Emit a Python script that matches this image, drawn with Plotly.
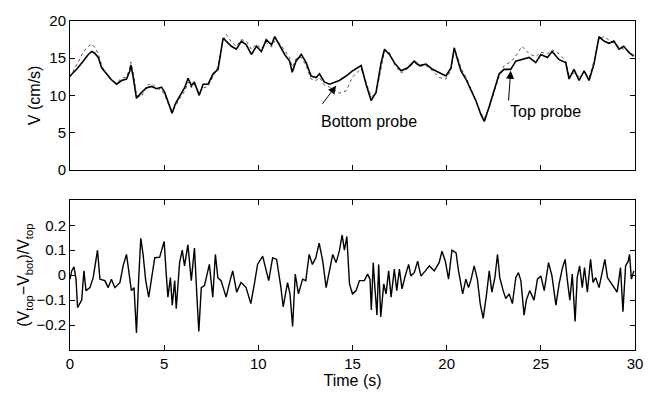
import plotly.graph_objects as go
from plotly.subplots import make_subplots

# Top panel: time (s) and velocities (cm/s)
t_v = [0, 0.35, 0.7, 0.97, 1.15, 1.3, 1.5, 1.68, 1.94, 2.2, 2.47, 2.74, 3.0, 3.18, 3.23, 3.36,
       3.53, 3.8, 4.06, 4.33, 4.6, 4.86, 5.03, 5.2, 5.42, 5.6, 5.83, 6.1, 6.27, 6.45, 6.6, 6.86,
       7.07, 7.33, 7.6, 7.86, 8.13, 8.3, 8.57, 8.83, 9.1, 9.36, 9.63, 9.9, 10.16, 10.42, 10.7,
       10.87, 11.13, 11.4, 11.66, 11.8, 12.0, 12.28, 12.54, 12.8, 13.07, 13.25, 13.5, 13.78,
       14.3, 14.66, 15.0, 15.46, 15.72, 15.99, 16.25, 16.52, 16.7, 16.96, 17.22, 17.58, 17.93,
       18.28, 18.55, 18.9, 19.25, 19.6, 19.96, 20.23, 20.4, 20.58, 20.76, 21.02, 21.29, 21.55,
       21.82, 22.0, 22.26, 22.52, 22.79, 23.05, 23.4, 23.67, 24.0, 24.38, 24.73, 25.0, 25.35,
       25.6, 25.97, 26.32, 26.5, 26.76, 27.03, 27.3, 27.56, 27.82, 28.09, 28.35, 28.62, 28.88,
       29.15, 29.4, 29.7, 29.94]
v_top = [12.6, 13.5, 14.6, 15.5, 15.9, 15.7, 15.1, 13.7, 12.9, 12.1, 11.5, 12.0, 12.2, 13.3, 14.1, 12.4,
         9.6, 10.4, 11.0, 11.2, 10.9, 11.1, 10.4, 9.3, 7.6, 8.9, 10.0, 11.1, 12.3, 11.3, 11.8, 10.0,
         11.5, 11.5, 12.9, 13.5, 17.7, 17.3, 16.6, 16.2, 17.3, 16.8, 15.5, 16.6, 15.9, 17.5, 16.8,
         17.9, 16.8, 15.5, 14.6, 13.1, 14.6, 15.5, 14.4, 12.6, 12.4, 12.9, 11.8, 11.5,
         12.0, 12.6, 13.3, 14.0, 11.5, 9.3, 10.4, 14.4, 16.2, 15.5, 14.4, 13.3, 13.7,
         14.6, 14.0, 14.2, 13.5, 13.1, 12.6, 13.7, 16.4, 14.8, 13.3, 12.2, 10.7, 9.3,
         7.4, 6.5, 8.5, 10.7, 12.9, 13.5, 13.5, 14.6, 14.8, 15.1, 14.4, 15.5, 15.1,
         15.9, 14.8, 14.4, 12.2, 13.5, 12.0, 13.3, 12.0, 14.2, 17.9, 17.3, 17.0, 17.3,
         16.2, 16.6, 15.7, 15.3]
v_bot = [12.4, 14.2, 15.8, 16.6, 16.9, 16.5, 15.6, 14.0, 12.8, 12.0, 11.7, 12.3, 12.5, 13.6, 14.5, 13.0,
         10.0, 9.8, 11.3, 11.6, 11.0, 10.7, 10.0, 9.0, 7.9, 8.5, 9.6, 10.6, 11.8, 11.0, 11.5, 10.3,
         11.0, 11.2, 12.6, 13.9, 17.4, 18.2, 17.2, 16.6, 17.5, 17.3, 16.2, 16.9, 16.3, 17.1, 16.5,
         17.3, 17.0, 16.0, 15.1, 13.8, 14.9, 15.1, 14.0, 12.2, 12.0, 12.4, 11.4, 11.1,
         10.3, 10.6, 12.5, 13.6, 11.8, 9.8, 10.2, 14.0, 16.0, 15.8, 14.2, 13.0, 13.6,
         14.4, 13.9, 14.0, 13.3, 12.4, 12.2, 13.4, 16.2, 15.2, 13.6, 12.5, 10.9, 9.4,
         7.6, 6.9, 8.3, 10.5, 12.6, 14.0, 14.5, 15.3, 16.6, 15.6, 15.2, 15.8, 15.6,
         16.1, 15.6, 14.6, 12.7, 13.0, 12.5, 13.1, 12.3, 14.6, 17.6, 17.9, 17.4, 16.9,
         16.5, 16.2, 15.9, 15.0]

# Bottom panel: relative difference (Vtop - Vbot)/Vtop
t_r = [0, 0.09, 0.21, 0.32, 0.4, 0.62, 0.74, 0.85, 1.06, 1.23, 1.46, 1.59, 1.85, 2.03, 2.2, 2.38,
       2.65, 2.82, 3.0, 3.12, 3.26, 3.4, 3.53, 3.65, 3.76, 3.88, 4.02, 4.18, 4.32, 4.5, 4.76,
       5.0, 5.11, 5.2, 5.33, 5.43, 5.56, 5.64, 5.82, 5.96, 6.08, 6.26, 6.44, 6.61, 6.74, 6.84,
       6.97, 7.14, 7.4, 7.58, 7.72, 7.85, 8.02, 8.29, 8.5, 8.64, 8.85, 9.08, 9.35, 9.6, 9.79,
       9.96, 10.23, 10.4, 10.55, 10.76, 10.97, 11.2, 11.32, 11.55, 11.68, 11.82, 11.96, 12.13,
       12.35, 12.52, 12.7, 12.87, 13.05, 13.23, 13.42, 13.6, 13.78, 13.95, 14.13, 14.31, 14.45,
       14.57, 14.7, 14.84, 15.0, 15.19, 15.37, 15.63, 15.8, 15.93, 16.0, 16.1, 16.2, 16.3,
       16.39, 16.5, 16.66, 16.78, 16.92, 17.05, 17.22, 17.35, 17.49, 17.63, 17.8, 17.98, 18.1,
       18.28, 18.46, 18.63, 18.87, 19.08, 19.34, 19.6, 19.75, 19.93, 20.1, 20.28, 20.5, 20.63,
       20.85, 21.02, 21.16, 21.28, 21.46, 21.63, 21.78, 21.94, 22.12, 22.26, 22.4, 22.56, 22.7,
       22.82, 23.0, 23.14, 23.32, 23.49, 23.67, 23.81, 23.94, 24.11, 24.23, 24.41, 24.64, 24.82,
       25.0, 25.18, 25.41, 25.59, 25.8, 25.97, 26.15, 26.29, 26.41, 26.54, 26.67, 26.82, 26.93,
       27.06, 27.2, 27.32, 27.47, 27.64, 27.77, 27.91, 28.09, 28.22, 28.4, 28.54, 28.7, 28.88,
       29.05, 29.23, 29.36, 29.5, 29.64, 29.71, 29.81, 29.94]
ratio = [-0.016, 0.017, 0.033, -0.016, -0.13, -0.10, 0.017, -0.062, -0.05, -0.01, 0.10, -0.016,
         -0.022, -0.05, -0.016, -0.05, -0.03, 0.037, 0.083, 0.004, -0.062, -0.05, -0.232, -0.01,
         0.148, 0.083, -0.022, -0.088, -0.016, 0.07, 0.072, 0.135, 0.004, -0.088, -0.01, -0.12,
         -0.022, -0.134, 0.05, 0.10, 0.037, 0.122, -0.022, 0.109, -0.088, -0.226, -0.05, -0.042,
         0.043, -0.088, 0.083, -0.01, -0.022, -0.088, -0.022, 0.017, -0.068, -0.029, -0.05,
         -0.114, -0.035, 0.043, 0.076, 0.017, -0.022, 0.07, 0.063, -0.05, -0.127, -0.03, -0.075,
         -0.206, 0.004, -0.075, -0.016, -0.022, 0.083, 0.043, 0.069, 0.128, 0.056, -0.05, 0.024,
         0.083, 0.05, 0.10, 0.161, 0.10, 0.155, -0.035, -0.075, -0.062, -0.022, -0.022, 0.004,
         -0.016, -0.14, 0.05, -0.062, -0.16, 0.043, -0.167, -0.035, -0.075, 0.017, -0.088, 0.024,
         -0.062, 0.024, -0.055, -0.003, 0.043, -0.003, 0.01, 0.056, -0.003, 0.017, 0.037, 0.017,
         0.05, 0.096, 0.056, -0.016, 0.10, 0.089, 0.017, -0.075, -0.016, -0.05, -0.022, 0.037,
         -0.016, -0.114, -0.173, -0.075, 0.017, -0.068, -0.01, 0.083, -0.01, -0.062, -0.094,
         -0.075, -0.114, -0.01, 0.01, -0.022, -0.16, -0.10, -0.062, -0.10, -0.016, -0.003, -0.062,
         0.05, -0.003, -0.12, -0.035, 0.03, 0.063, -0.022, -0.10, 0.004, -0.186, -0.01, 0.037,
         -0.05, 0.03, -0.068, 0.063, -0.029, -0.01, -0.05, 0.004, 0.063, -0.01, -0.029, -0.05,
         -0.068, 0.03, -0.147, 0.037, 0.056, 0.083, -0.016, 0.017]

x_ticks = [0, 5, 10, 15, 20, 25, 30]
v_ticks = [0, 5, 10, 15, 20]
r_ticks = [-0.2, -0.1, 0, 0.1, 0.2]
r_ticktext = ["\u22120.2", "\u22120.1", "0", "0.1", "0.2"]

FONT = "Liberation Sans, Arial, Helvetica, sans-serif"
TICK_SIZE = 15
LABEL_SIZE = 16

fig = make_subplots(rows=2, cols=1, vertical_spacing=0.0)

fig.add_trace(go.Scatter(x=t_v, y=v_bot, mode="lines", name="Bottom probe",
                         line=dict(color="#555555", width=1, dash="dot")), row=1, col=1)
fig.add_trace(go.Scatter(x=t_v, y=v_top, mode="lines", name="Top probe",
                         line=dict(color="black", width=1.6)), row=1, col=1)
fig.add_trace(go.Scatter(x=t_r, y=ratio, mode="lines",
                         line=dict(color="black", width=1.4)), row=2, col=1)

axis_common = dict(showline=True, linecolor="black", linewidth=1, mirror="ticks",
                   ticks="inside", ticklen=5, tickcolor="black", showgrid=False,
                   zeroline=False, tickfont=dict(family=FONT, size=TICK_SIZE, color="black"))

fig.update_xaxes(range=[0, 30], tickvals=x_ticks, **axis_common)
fig.update_xaxes(showticklabels=False, row=1, col=1)
fig.update_xaxes(title=dict(text="Time (s)", font=dict(family=FONT, size=LABEL_SIZE, color="black"),
                            standoff=2), row=2, col=1)
fig.update_yaxes(range=[0, 20], tickvals=v_ticks,
                 title=dict(text="V (cm/s)", font=dict(family=FONT, size=LABEL_SIZE, color="black"),
                            standoff=4),
                 row=1, col=1, **axis_common)
fig.update_yaxes(range=[-0.3, 0.3], tickvals=r_ticks, ticktext=r_ticktext,
                 title=dict(text="(V<sub>top</sub>\u2212V<sub>bot</sub>)/V<sub>top</sub>",
                            font=dict(family=FONT, size=LABEL_SIZE, color="black"), standoff=2),
                 row=2, col=1, **axis_common)

fig.update_layout(
    width=655, height=397,
    margin=dict(l=70, r=19, t=16, b=47),
    paper_bgcolor="white", plot_bgcolor="white",
    showlegend=False,
    font=dict(family=FONT, size=LABEL_SIZE, color="black"),
)
fig.layout.yaxis.domain = [0.548, 1.0]
fig.layout.yaxis2.domain = [0.0, 0.455]

# Labels with arrows
fig.add_annotation(x=15.9, y=6.45, xref="x", yref="y", text="Bottom probe", showarrow=False,
                   font=dict(family=FONT, size=LABEL_SIZE, color="black"))
fig.add_annotation(x=14.13, y=11.3, ax=13.34, ay=8.65, xref="x", yref="y", axref="x", ayref="y",
                   text="", showarrow=True, arrowhead=2, arrowsize=1.6, arrowwidth=1,
                   arrowcolor="black")
fig.add_annotation(x=25.26, y=7.8, xref="x", yref="y", text="Top probe", showarrow=False,
                   font=dict(family=FONT, size=LABEL_SIZE, color="black"))
fig.add_annotation(x=23.4, y=13.3, ax=23.28, ay=9.1, xref="x", yref="y", axref="x", ayref="y",
                   text="", showarrow=True, arrowhead=2, arrowsize=1.6, arrowwidth=1,
                   arrowcolor="black")

fig.write_html("out.html")
